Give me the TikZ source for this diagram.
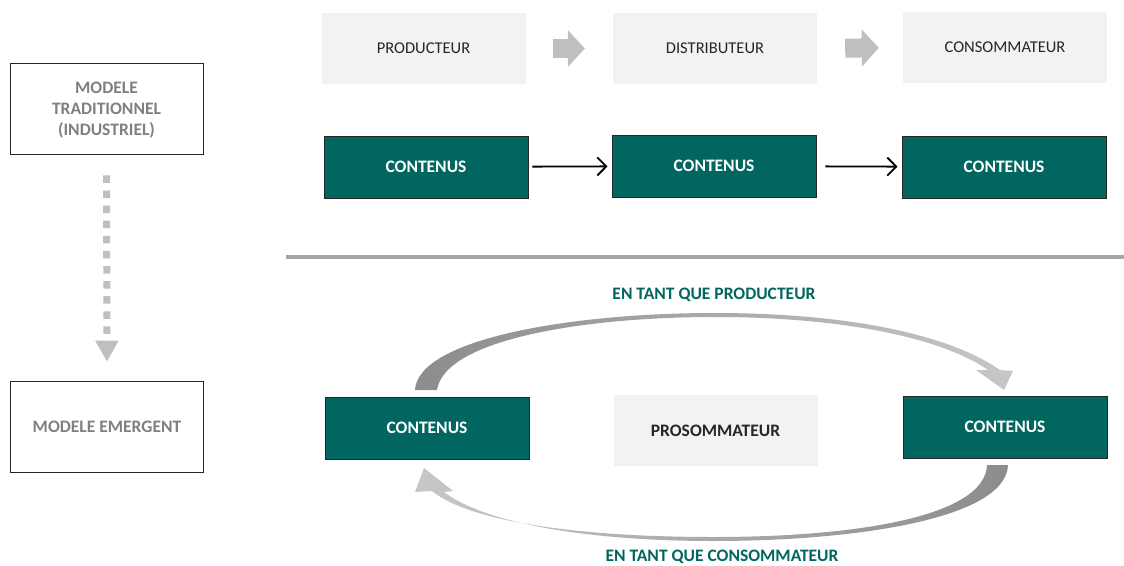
\documentclass[tikz,border=0pt]{standalone}
\usepackage{fontspec}
\setmainfont{Carlito}
\usetikzlibrary{arrows.meta, positioning}
\definecolor{cteal}{HTML}{00665F}
\definecolor{cpale}{HTML}{F2F2F2}
\definecolor{cgrey}{HTML}{808080}
\definecolor{cline}{HTML}{A6A6A6}
\definecolor{cdots}{HTML}{BFBFBF}
\definecolor{cdark}{HTML}{262626}
\newcommand\boxfont{\fontsize{17.5}{21}\selectfont}
\newcommand\rolefont{\fontsize{16.5}{20}\selectfont}
\tikzset{
  every picture/.style={x=1pt, y=-1pt},
  model/.style={draw=cdark, fill=white, line width=0.8pt, text=cgrey, font=\boxfont\bfseries, align=center, minimum width=193pt, minimum height=91pt},
  role/.style={fill=cpale, text=cdark, font=\rolefont, minimum width=204pt, minimum height=71pt},
  content/.style={draw=black!85, fill=cteal, text=white, font=\boxfont\bfseries, line width=0.8pt, minimum width=204pt, minimum height=62pt},
  flow/.style={-{Straight Barb[length=9pt, width=18pt]}, line width=1.8pt, shorten <=4pt, shorten >=4pt},
  block/.style={cdots, line width=19pt, -{Triangle[length=17pt, width=36pt]}},
  dots/.style={cdots, line width=7pt, dash pattern=on 7.5pt off 7.6pt, -{Triangle[length=21pt, width=22pt]}},
  tag/.style={text=cteal, font=\boxfont\bfseries},
}

\begin{document}
\begin{tikzpicture}
  \useasboundingbox (0,0) rectangle (1124,565);
  % models on the left
  \node[model, text depth=0pt] (trad) at (106.5,108.5) {MODELE\\TRADITIONNEL\\(INDUSTRIEL)};
  \node[model] (emer) at (107,426.5) {MODELE EMERGENT};
  \draw[dots, shorten <=21pt, shorten >=19pt] (trad.south) -- (emer.north);
  % traditional chain
  \node[role] (prod) at (423.5,48.5) {PRODUCTEUR};
  \node[role] (dist) at (715,48.5) {DISTRIBUTEUR};
  \node[role] (cons) at (1005,47.5) {CONSOMMATEUR};
  \draw[block, shorten <=27pt, shorten >=28pt] (prod.east) -- (dist.west);
  \draw[block, shorten <=28pt, shorten >=24pt] (dist.east) -- (cons.west);
  \node[content] (c1) at (426,167) {CONTENUS};
  \node[content] (c2) at (714,166) {CONTENUS};
  \node[content] (c3) at (1004,167) {CONTENUS};
  \draw[flow] (c1) -- (c2);
  \draw[flow, shorten <=9pt] (c2) -- (c3);
  \draw[cline, line width=4pt] (286,257) -- (1124,257);
  % emergent model
  \node[content] (pl) at (427,428) {CONTENUS};
  \node[role, font=\boxfont\bfseries] (pros) at (715.5,430.5) {PROSOMMATEUR};
  \node[content] (pr) at (1005,427) {CONTENUS};
  \shade[left color=black!45, right color=black!22]
    (415,390) .. controls (418,338) and (575,313) .. (714,313)
    .. controls (850,313) and (950,335) .. (1000,370) -- (1013,371) -- (1004,390) -- (976,370) -- (988,370)
    .. controls (945,340) and (850,317) .. (714,317)
    .. controls (590,317) and (445,338) .. (437,390) -- cycle;
  \shade[left color=black!22, right color=black!45]
    (1008,465) .. controls (1006,520) and (850,541) .. (714,541)
    .. controls (575,541) and (480,520) .. (444,492) -- (453,491) -- (424,468) -- (415,492) -- (432,491)
    .. controls (470,522) and (580,537) .. (714,537)
    .. controls (850,537) and (985,518) .. (987,465) -- cycle;
  \node[tag] (up) at (714,295) {EN TANT QUE PRODUCTEUR};
  \node[tag] (down) at (722,557) {EN TANT QUE CONSOMMATEUR};
\end{tikzpicture}
\end{document}
